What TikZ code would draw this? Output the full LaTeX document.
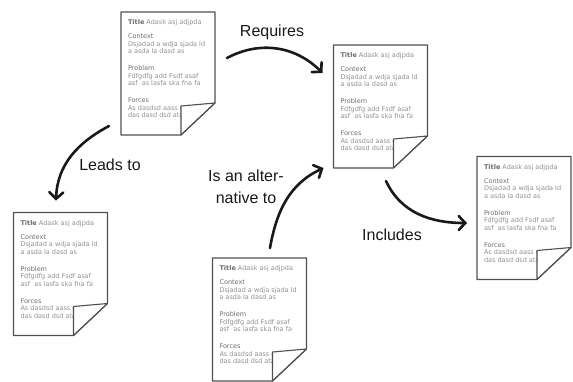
\documentclass[tikz,border=0pt]{standalone}
\usepackage{fontspec}
\setmainfont{Liberation Sans}
\newfontfamily\notefont{DejaVu Sans}
\usepackage{xcolor}
\definecolor{ink}{RGB}{25,25,25}
\definecolor{frame}{RGB}{80,80,80}
\definecolor{headgray}{RGB}{110,110,110}
\definecolor{bodygray}{RGB}{145,145,145}
\usetikzlibrary{arrows.meta,positioning}

% text of one pattern sheet
\newcommand{\sheettext}{%
  \parbox[c][123pt][t]{80pt}{\vspace*{8pt}%
    \notefont\fontsize{6.5}{7.6}\selectfont\raggedright
    {\color{headgray}\bfseries Title} {\color{bodygray}Adask asj adjpda}\\[6.2pt]
    {\color{headgray}Context}\\
    {\color{bodygray}Dsjadad a wdja sjada ld\\a asda la dasd as}\\[9.2pt]
    {\color{headgray}Problem}\\
    {\color{bodygray}Fdfgdfg add Fsdf asaf\\asf\ \ as lasfa ska fna fa}\\[9.2pt]
    {\color{headgray}Forces}\\
    {\color{bodygray}As dasdsd aass ca\\das dasd dsd atal}}}

\tikzset{
  sheet/.style={fill=white, inner xsep=7pt, inner ysep=0pt, outer sep=0pt,
                minimum width=94pt, minimum height=123pt},
  sheetline/.style={draw=frame, line width=1.1pt, line join=round},
  link/.style={draw=ink, line width=2.6pt, line cap=round,
               -{Straight Barb[length=6.5pt,width=14pt,line cap=round]}},
  tag/.style={text=ink, font=\fontsize{16}{22}\selectfont, inner sep=0pt},
}

\begin{document}
\begin{tikzpicture}[x=1pt,y=-1pt]
\useasboundingbox (0,0) rectangle (573,381);

% pattern sheets
\node[sheet] (top)  at (168,73.5)  {\sheettext};
\node[sheet] (req)  at (380.5,106.5) {\sheettext};
\node[sheet] (lead) at (60.5,274)  {\sheettext};
\node[sheet] (alt)  at (259.5,319.5) {\sheettext};
\node[sheet] (incl) at (524,218)   {\sheettext};

\foreach \s in {top,req,lead,alt,incl} {
  \filldraw[sheetline, fill=white]
    ([xshift=-34pt]\s.south east) -- ([xshift=-34pt,yshift=29pt]\s.south east)
    -- ([yshift=32pt]\s.south east) -- cycle;
  \draw[sheetline] (\s.north west) -- (\s.north east)
    -- ([yshift=32pt]\s.south east) -- ([xshift=-34pt]\s.south east)
    -- (\s.south west) -- cycle;
}

% relations
\draw[link] ([shift={(-12,-9)}]top.south west) to[out=208,in=88]
  ([shift={(-4.5,-12)}]lead.north);
\draw[link] ([shift={(12,-15.5)}]top.east) to[out=28,in=135]
  ([shift={(-11,28)}]req.north west);
\draw[link] ([shift={(10.5,-10)}]alt.north) to[out=80,in=205]
  ([shift={(-10,0)}]req.south west);
\draw[link] ([shift={(5.5,13)}]req.south) to[out=-65,in=180]
  ([shift={(-10,5)}]incl.west);

\node[tag] (leads) at (110,165) {Leads to};
\node[tag] (requires) at (272,32) {Requires};
\node[tag, align=center] (alternative) at (246,187) {Is an alter-\\native to};
\node[tag] (includes) at (392,235) {Includes};
\end{tikzpicture}
\end{document}
